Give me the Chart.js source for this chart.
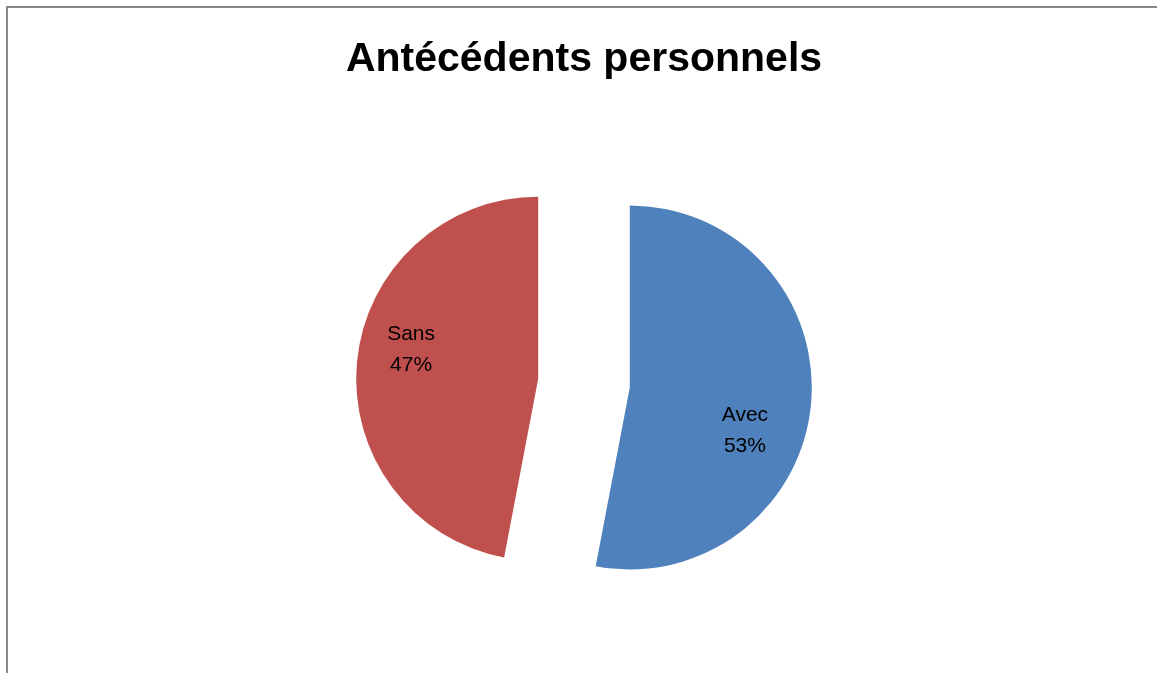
<!DOCTYPE html>
<html>
<head>
<meta charset="utf-8">
<script src="https://cdn.jsdelivr.net/npm/chart.js@4/dist/chart.umd.min.js"></script>
<style>
  html, body { margin: 0; padding: 0; background: #fff; overflow: hidden; }
  .wrap { position: relative; width: 1157px; height: 673px; }
  .frame { position: absolute; left: 6px; top: 6px; width: 1300px; height: 800px;
           border-top: 2px solid #888; border-left: 2px solid #888; pointer-events: none; }
  canvas { position: absolute; left: 0; top: 0; }
</style>
</head>
<body>
<div class="wrap">
  <div class="frame"></div>
  <canvas id="pie" width="1157" height="673"></canvas>
</div>
<script>
// Antécédents personnels — exploded two-slice pie
const categories = ['Avec', 'Sans'];
const values = [53, 47];
const colors = ['#4F81BD', '#C0504D'];

// Pull every slice straight out along its mid-angle by a fixed distance.
// (The built-in `offset` also grows and narrows the arcs, which we don't want.)
const explodeSlices = {
  id: 'explodeSlices',
  afterDatasetUpdate(chart, args, opts) {
    const dist = opts.distance || 0;
    args.meta.data.forEach((arc) => {
      if (arc.$exploded) return;
      arc.$exploded = true;
      const baseDraw = arc.draw;
      arc.draw = function (ctx) {
        const mid = (this.startAngle + this.endAngle) / 2;
        ctx.save();
        ctx.translate(Math.cos(mid) * dist, Math.sin(mid) * dist);
        baseDraw.call(this, ctx);
        ctx.restore();
      };
    });
  },
};

// category name + percentage inside each slice
const sliceLabels = {
  id: 'sliceLabels',
  afterDatasetsDraw(chart, args, opts) {
    const ctx = chart.ctx;
    const meta = chart.getDatasetMeta(0);
    const data = chart.data.datasets[0].data;
    const total = data.reduce((a, b) => a + b, 0);
    const dist = chart.options.plugins.explodeSlices.distance || 0;
    ctx.save();
    ctx.font = opts.font;
    ctx.fillStyle = '#000';
    ctx.textAlign = 'center';
    ctx.textBaseline = 'middle';
    meta.data.forEach((arc, i) => {
      const mid = (arc.startAngle + arc.endAngle) / 2;
      const cx = arc.x + Math.cos(mid) * dist;
      const cy = arc.y + Math.sin(mid) * dist;
      const a = mid + opts.turn;
      const r = arc.outerRadius * opts.depth;
      const x = cx + Math.cos(a) * r + opts.nudge[0];
      const y = cy + Math.sin(a) * r + opts.nudge[1];
      const pct = Math.round(data[i] / total * 100) + '%';
      ctx.fillText(chart.data.labels[i], x, y - opts.lineGap / 2);
      ctx.fillText(pct, x, y + opts.lineGap / 2);
    });
    ctx.restore();
  },
};

new Chart(document.getElementById('pie').getContext('2d'), {
  type: 'pie',
  data: {
    labels: categories,
    datasets: [{ data: values, backgroundColor: colors, borderWidth: 0, hoverOffset: 0 }],
  },
  options: {
    responsive: false, animation: false, events: [],
    radius: 182,
    layout: { padding: { left: 11, bottom: 1 } },
    plugins: {
      legend: { display: false },
      tooltip: { enabled: false },
      title: {
        display: true,
        text: 'Antécédents personnels',
        color: '#000',
        font: { family: '"Liberation Sans", Arial, sans-serif', size: 41, weight: 'bold' },
        padding: { top: 35, bottom: 10 },
      },
      explodeSlices: { distance: 46 },
      sliceLabels: {
        font: '21px "Liberation Sans", Arial, sans-serif',
        turn: 0.193, depth: 0.694, nudge: [-6, 7], lineGap: 31,
      },
    },
  },
  plugins: [explodeSlices, sliceLabels],
});
</script>
</body>
</html>
